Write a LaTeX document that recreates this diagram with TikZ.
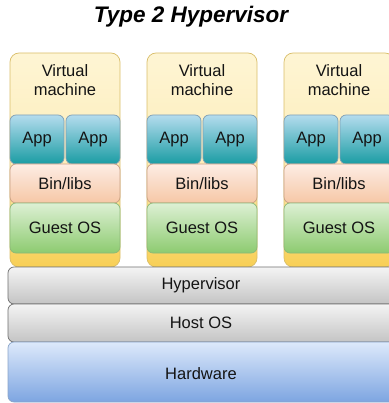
\documentclass[tikz,border=0pt]{standalone}
\usepackage{fontspec}
\setmainfont{Liberation Sans}
\definecolor{vmtop}{HTML}{FEF5D4}
\definecolor{vmbot}{HTML}{F8CF55}
\definecolor{vmline}{HTML}{D9BE6A}
\definecolor{apptop}{HTML}{B4DCEE}
\definecolor{appbot}{HTML}{1A9CA3}
\definecolor{appline}{HTML}{7F9FB5}
\definecolor{bintop}{HTML}{FDEDE4}
\definecolor{binbot}{HTML}{F6C7A6}
\definecolor{binline}{HTML}{C9A083}
\definecolor{ostop}{HTML}{DDF0D4}
\definecolor{osbot}{HTML}{8DCB70}
\definecolor{osline}{HTML}{8CB878}
\definecolor{graytop}{HTML}{F4F4F4}
\definecolor{graybot}{HTML}{C4C4C4}
\definecolor{grayline}{HTML}{6F6F6F}
\definecolor{hwtop}{HTML}{DDE9FB}
\definecolor{hwbot}{HTML}{7DA5E1}
\definecolor{hwline}{HTML}{8AA4C8}
\definecolor{txt}{HTML}{141414}
\tikzset{
  labelfont/.style={text=txt, font=\fontsize{16.5}{18.5}\selectfont},
  layer/.style={rounded corners=6pt, line width=0.7pt, inner sep=0pt, labelfont},
  vmbox/.style={layer, draw=vmline, top color=vmtop, bottom color=vmbot,
    middle color=vmtop!80!vmbot, rounded corners=9pt,
    minimum width=110pt, minimum height=214pt},
  appbox/.style={layer, draw=appline, top color=apptop, bottom color=appbot,
    minimum width=54pt, minimum height=49pt},
  binbox/.style={layer, draw=binline, top color=bintop, bottom color=binbot,
    minimum width=110pt, minimum height=39pt},
  osbox/.style={layer, draw=osline, top color=ostop, bottom color=osbot,
    minimum width=110pt, minimum height=50pt},
  graybox/.style={layer, draw=grayline, top color=graytop, bottom color=graybot,
    minimum width=392pt},
  hwbox/.style={layer, draw=hwline, top color=hwtop, bottom color=hwbot,
    minimum width=392pt, minimum height=60pt},
  vmlabel/.style={labelfont, align=center},
}
\begin{document}
\begin{tikzpicture}[x=1pt, y=-1pt]
  \useasboundingbox (0,0) rectangle (388,403);
  \node[font=\fontsize{22.5}{25}\selectfont\bfseries\itshape, anchor=base] (title)
    at (191,23) {Type 2 Hypervisor};

  % three virtual machines, each a stack of layers
  \foreach \i/\x in {1/10, 2/147, 3/284} {
    \node[vmbox] (vm\i) at (\x+55,160) {};
    \node[vmlabel] (vmtext\i) at (\x+55,80) {Virtual\\machine};
    \node[appbox] (appa\i) at (\x+27,139.5) {App};
    \node[appbox] (appb\i) at (\x+83,139.5) {App};
    \node[binbox] (bin\i) at (\x+55,183.5) {Bin/libs};
    \node[osbox] (os\i) at (\x+55,228) {Guest OS};
  }

  % shared layers underneath
  \node[graybox, minimum height=37pt] (hyp) at (204,285.5) {};
  \node[labelfont] (hyptext) at (201,285.5) {Hypervisor};
  \node[graybox, minimum height=38pt] (host) at (204,323) {};
  \node[labelfont] (hosttext) at (201,323) {Host OS};
  \node[hwbox] (hw) at (204,372) {};
  \node[labelfont] (hwtext) at (201,374) {Hardware};
\end{tikzpicture}
\end{document}
